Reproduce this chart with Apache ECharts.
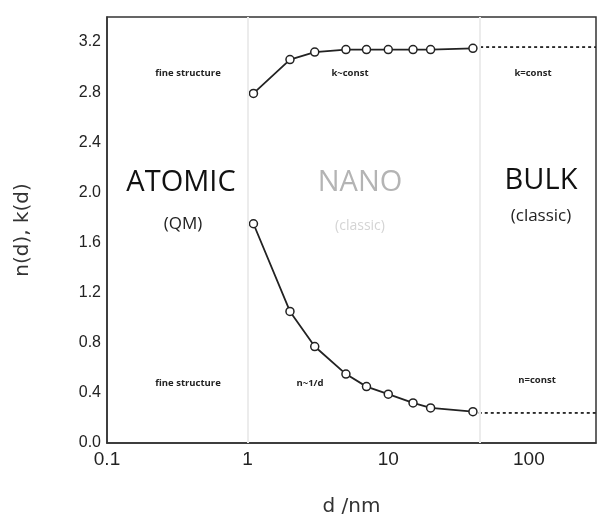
<!DOCTYPE html>
<html>
<head>
<meta charset="utf-8">
<script src="https://cdn.jsdelivr.net/npm/echarts@6/dist/echarts.min.js"></script>
<style>
  html, body { margin: 0; padding: 0; background: #fff; }
  .chart { width: 599px; height: 522px; }
</style>
</head>
<body>
<div class="chart"></div>
<script>
// 数据
var sizes = [1.1, 2, 3, 5, 7, 10, 15, 20, 40];
var kValues = [2.79, 3.06, 3.12, 3.14, 3.14, 3.14, 3.14, 3.14, 3.15];
var nValues = [1.75, 1.05, 0.77, 0.55, 0.45, 0.39, 0.32, 0.28, 0.25];
var kBulk = [[45, 3.16], [300, 3.16]];
var nBulk = [[44, 0.24], [300, 0.24]];
var xTicks = [0.1, 1, 10, 100];
var regionBounds = [1, 45];

function pairs(xs, ys) {
    return xs.map(function (x, i) { return [x, ys[i]]; });
}

var myChart = echarts.init(document.querySelector('.chart'));

var sans = '"Liberation Sans", Arial, sans-serif';
var label = function (text, x, y, size, color, weight) {
    return {
        type: 'text',
        x: x,
        y: y,
        z: 10,
        style: {
            text: text,
            fill: color,
            font: (weight || 'normal') + ' ' + size + 'px "Open Sans", sans-serif',
            align: 'center',
            verticalAlign: 'middle'
        }
    };
};

var lineSeries = function (data) {
    return {
        type: 'line',
        data: data,
        symbol: 'circle',
        symbolSize: 8,
        lineStyle: { color: '#222', width: 1.8 },
        itemStyle: { color: '#fff', borderColor: '#222', borderWidth: 1.5 },
        z: 3
    };
};

var dotSeries = function (data) {
    return {
        type: 'line',
        data: data,
        symbol: 'none',
        lineStyle: { color: '#222', width: 1.8, type: [3, 3] },
        z: 3
    };
};

var option = {
    animation: false,
    grid: {
        left: 107,
        top: 17,
        right: 3,
        bottom: 79,
        show: true,
        borderColor: '#333',
        borderWidth: 1.5
    },
    xAxis: {
        type: 'log',
        logBase: 10,
        min: 0.1,
        max: 300,
        name: 'd /nm',
        nameLocation: 'middle',
        nameGap: 54,
        nameTextStyle: { fontSize: 20, color: '#333', fontFamily: '"DejaVu Sans", sans-serif' },
        axisLine: { lineStyle: { color: '#333', width: 1.5 } },
        axisTick: { show: false },
        splitLine: { show: false },
        axisLabel: {
            fontSize: 19,
            color: '#222',
            fontFamily: sans,
            margin: 7,
            formatter: function (v) {
                for (var i = 0; i < xTicks.length; i++) {
                    if (Math.abs(v - xTicks[i]) < xTicks[i] * 1e-6) return String(xTicks[i]);
                }
                return '';
            }
        }
    },
    yAxis: {
        type: 'value',
        min: 0,
        max: 3.4,
        interval: 0.4,
        name: 'n(d), k(d)',
        nameLocation: 'middle',
        nameGap: 74,
        nameTextStyle: { fontSize: 20, color: '#333', fontFamily: '"DejaVu Sans", sans-serif' },
        axisLine: { show: true, lineStyle: { color: '#333', width: 1.5 } },
        axisTick: { show: false },
        splitLine: { show: false },
        axisLabel: {
            fontSize: 16,
            color: '#222',
            fontFamily: sans,
            margin: 6,
            formatter: function (v) {
                if (v > 3.3) return '';
                return v.toFixed(1);
            }
        }
    },
    graphic: [
        label('fine structure', 188, 73, 9.5, '#222', 'bold'),
        label('k~const', 350, 73, 9.5, '#222', 'bold'),
        label('k=const', 533, 73, 9.5, '#222', 'bold'),
        label('ATOMIC', 181, 183, 29, '#111'),
        label('(QM)', 183, 224, 17, '#222'),
        label('NANO', 360, 183, 29, '#b4b4b4'),
        label('(classic)', 360, 226, 14, '#d4d4d4'),
        label('BULK', 541, 181, 29, '#111'),
        label('(classic)', 541, 216, 17, '#222'),
        label('fine structure', 188, 383, 9.5, '#222', 'bold'),
        label('n~1/d', 310, 383, 9.5, '#222', 'bold'),
        label('n=const', 537, 380, 9.5, '#222', 'bold')
    ],
    series: [
        Object.assign(lineSeries(pairs(sizes, kValues)), {
            markLine: {
                silent: true,
                symbol: 'none',
                label: { show: false },
                lineStyle: { color: '#ececec', width: 2, type: 'solid' },
                data: regionBounds.map(function (b) { return { xAxis: b }; })
            }
        }),
        lineSeries(pairs(sizes, nValues)),
        dotSeries(kBulk),
        dotSeries(nBulk)
    ]
};

myChart.setOption(option);
</script>
</body>
</html>
